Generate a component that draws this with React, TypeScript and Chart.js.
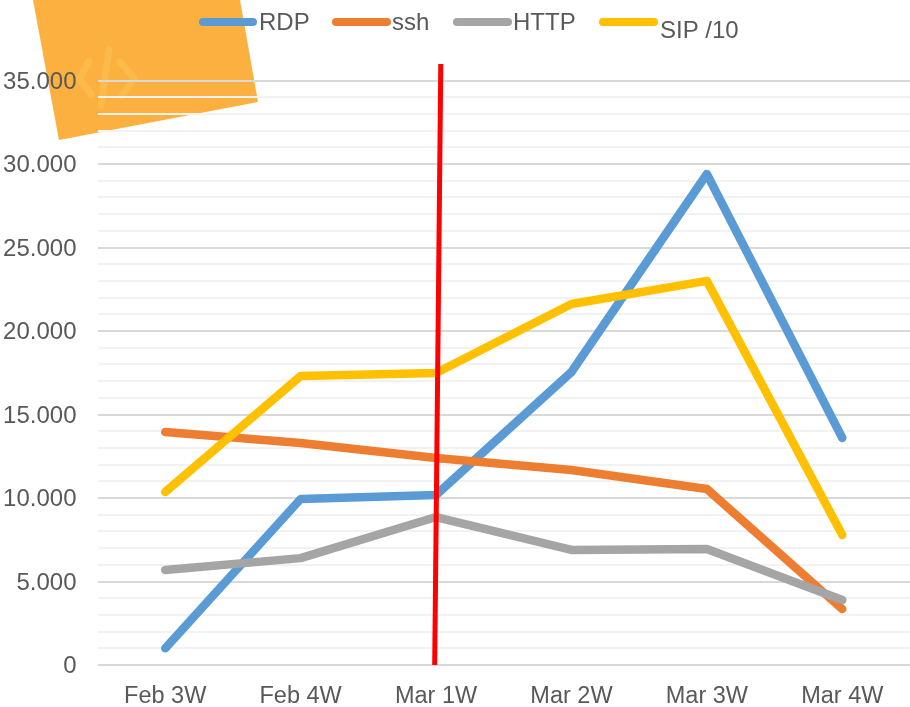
import React, { useEffect, useRef } from "react";
import { Chart, registerables } from "chart.js";

Chart.register(...registerables);

const categories = ["Feb 3W", "Feb 4W", "Mar 1W", "Mar 2W", "Mar 3W", "Mar 4W"];
const rdp = [1000, 9940, 10180, 17545, 29400, 13590];
const ssh = [13950, 13290, 12400, 11680, 10540, 3350];
const http = [5690, 6400, 8860, 6890, 6950, 3890];
const sip = [10360, 17300, 17490, 21620, 23000, 7780];
const markerX = [1.99, 2.035];
const markerY = [0, 35990];
const COLORS = { rdp: "#5B9BD5", ssh: "#ED7D31", http: "#A5A5A5", sip: "#FFC000", marker: "#FF0000" };
const FONT = '"Liberation Sans", Arial, sans-serif';
const TEXT = "#595959";

const legendItems = [
  { label: "RDP", color: COLORS.rdp, x0: 203, x1: 253, tx: 259, ty: 23 },
  { label: "ssh", color: COLORS.ssh, x0: 336, x1: 387, tx: 392, ty: 23 },
  { label: "HTTP", color: COLORS.http, x0: 457, x1: 508, tx: 513, ty: 23 },
  { label: "SIP /10", color: COLORS.sip, x0: 603, x1: 654, tx: 660, ty: 31 },
];

const backdrop = {
  id: "backdrop",
  afterLayout(chart: any) {
    const s = chart.scales.y;
    if (s.__nudged) return;
    s.__nudged = true;
    const orig = s.drawLabels;
    s.drawLabels = function (area: any) {
      const c = s.ctx;
      c.save();
      c.translate(0, 1.5);
      orig.call(s, area);
      c.restore();
    };
  },
  beforeDraw(chart: any) {
    const c = chart.ctx;
    c.save();
    c.fillStyle = "#FBB040";
    c.beginPath();
    c.moveTo(33, 0);
    c.lineTo(240, 0);
    c.lineTo(258, 102);
    c.lineTo(59, 140);
    c.closePath();
    c.fill();
    c.strokeStyle = "#FCBA4A";
    c.lineWidth = 7;
    c.lineCap = "round";
    c.lineJoin = "round";
    c.beginPath();
    c.moveTo(89, 61);
    c.lineTo(79, 79);
    c.lineTo(91, 94);
    c.moveTo(109, 50);
    c.lineTo(101, 106);
    c.moveTo(120, 62);
    c.lineTo(134, 78);
    c.lineTo(122, 96);
    c.stroke();
    c.restore();
  },
};

const topLegend = {
  id: "topLegend",
  afterDraw(chart: any) {
    const c = chart.ctx;
    c.save();
    c.font = `24px ${FONT}`;
    c.textBaseline = "middle";
    c.textAlign = "left";
    c.lineCap = "round";
    c.lineWidth = 8;
    for (const it of legendItems) {
      c.strokeStyle = it.color;
      c.beginPath();
      c.moveTo(it.x0, 22);
      c.lineTo(it.x1, 22);
      c.stroke();
      c.fillStyle = TEXT;
      c.fillText(it.label, it.tx, it.ty);
    }
    c.restore();
  },
};

function line(label: string, data: number[], color: string) {
  return {
    label,
    data,
    borderColor: color,
    backgroundColor: color,
    borderWidth: 8.5,
    pointRadius: 0,
    tension: 0,
    borderCapStyle: "round",
    borderJoinStyle: "round",
    xAxisID: "x",
  };
}

export default function App() {
  const ref = useRef<HTMLCanvasElement>(null);
  useEffect(() => {
    const chart = new Chart(ref.current as HTMLCanvasElement, {
      type: "line",
      data: {
        labels: categories,
        datasets: [
          {
            label: "Marker",
            data: markerX.map((x, i) => ({ x, y: markerY[i] })),
            borderColor: COLORS.marker,
            borderWidth: 5,
            pointRadius: 0,
            xAxisID: "x2",
            clip: false,
            order: 0,
          },
          { ...line("SIP /10", sip, COLORS.sip), order: 1 },
          { ...line("HTTP", http, COLORS.http), order: 2 },
          { ...line("ssh", ssh, COLORS.ssh), order: 3 },
          { ...line("RDP", rdp, COLORS.rdp), order: 4 },
        ],
      } as any,
      options: {
        responsive: false,
        animation: false,
        layout: { autoPadding: false, padding: { top: 80.5, right: 0, bottom: 0, left: 0 } },
        plugins: { legend: { display: false }, tooltip: { enabled: false } },
        scales: {
          x: {
            type: "category",
            offset: true,
            afterFit(s: any) {
              s.height = 42;
            },
            grid: { display: false, offset: true },
            border: { display: false },
            ticks: { color: TEXT, font: { size: 23.5, family: FONT }, padding: 9, maxRotation: 0 },
          },
          x2: { type: "linear", min: -0.5, max: 5.5, display: false },
          y: {
            min: 0,
            max: 35000,
            afterFit(s: any) {
              s.width = 97.5;
            },
            border: { display: false },
            grid: {
              drawTicks: false,
              lineWidth: 2,
              color: (ctx: any) => (ctx.tick && ctx.tick.value % 5000 === 0 ? "#D9D9D9" : "#F2F2F2"),
            },
            ticks: {
              stepSize: 1000,
              autoSkip: false,
              color: TEXT,
              padding: 21,
              font: { size: 24, family: FONT },
              callback: (v: any) =>
                Number(v) % 5000 === 0 ? String(v).replace(/\B(?=(\d{3})+$)/g, ".") : "",
            },
          },
        },
      } as any,
      plugins: [backdrop, topLegend],
    });
    return () => chart.destroy();
  }, []);
  return (
    <div style={{ position: "absolute", left: 0, top: 0, width: 910, height: 707, background: "#fff" }}>
      <canvas ref={ref} width={910} height={707} style={{ display: "block" }} />
    </div>
  );
}
